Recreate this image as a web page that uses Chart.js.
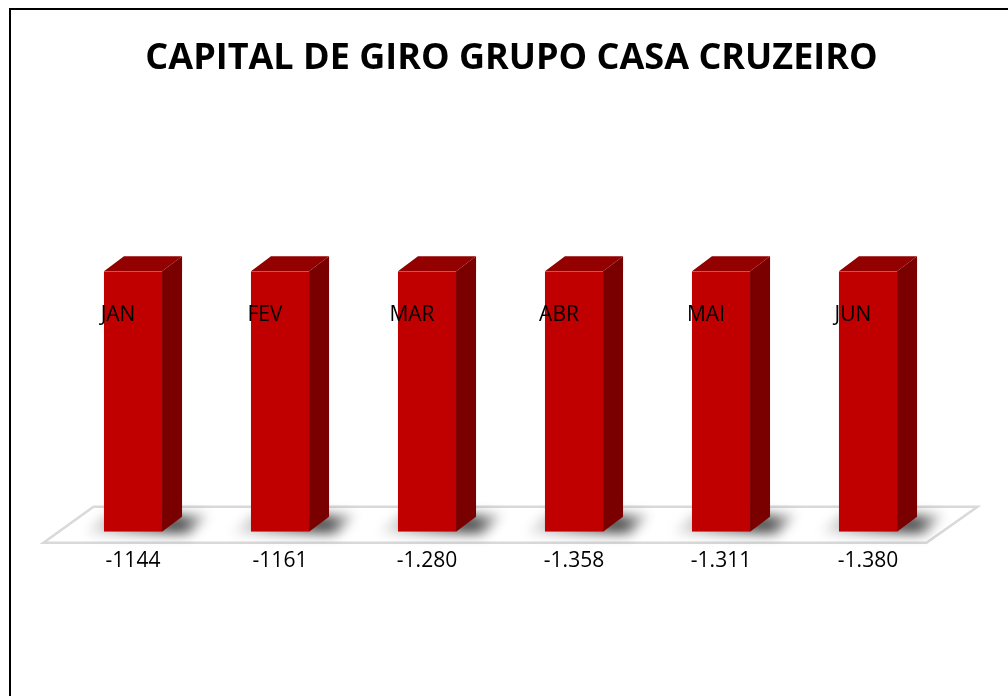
<!DOCTYPE html>
<html>
<head>
<meta charset="utf-8">
<script src="https://cdn.jsdelivr.net/npm/chart.js@4.4.1/dist/chart.umd.min.js"></script>
<style>
    html, body { margin: 0; padding: 0; background: #ffffff; }
    #wrap { width: 1008px; height: 696px; position: relative; }
</style>
</head>
<body>
<div id="wrap"><canvas id="giroChart" width="1008" height="696"></canvas></div>
<script>
// meses (rótulos dentro das colunas)
const meses = ['JAN', 'FEV', 'MAR', 'ABR', 'MAI', 'JUN'];
// valores exibidos abaixo das colunas
const valoresTexto = ['-1144', '-1161', '-1.280', '-1.358', '-1.311', '-1.380'];
// altura das colunas como aparecem no gráfico (todas iguais)
const alturas = [1, 1, 1, 1, 1, 1];

const tituloTexto = 'CAPITAL DE GIRO GRUPO CASA CRUZEIRO';

// profundidade do efeito 3D
const DX = 20, DY = -15;

// moldura, piso e sombras atrás das colunas
const fundo3d = {
    id: 'fundo3d',
    beforeDraw(chart) {
        const ctx = chart.ctx;
        ctx.save();
        ctx.fillStyle = '#ffffff';
        ctx.fillRect(0, 0, chart.width, chart.height);
        // moldura
        ctx.strokeStyle = '#000000';
        ctx.lineWidth = 2;
        ctx.beginPath();
        ctx.moveTo(10, chart.height + 5);
        ctx.lineTo(10, 9);
        ctx.lineTo(chart.width + 5, 9);
        ctx.stroke();
        ctx.restore();
    },
    beforeDatasetsDraw(chart) {
        const ctx = chart.ctx;
        const area = chart.chartArea;
        const base = chart.scales.y.getPixelForValue(0);
        ctx.save();
        // piso
        const l = area.left - 16, r = area.right - 15;
        const yFront = base + 11, yBack = base - 25;
        ctx.beginPath();
        ctx.moveTo(l, yFront);
        ctx.lineTo(r, yFront);
        ctx.lineTo(r + 51, yBack);
        ctx.lineTo(l + 50, yBack);
        ctx.closePath();
        ctx.fillStyle = '#ffffff';
        ctx.fill();
        ctx.strokeStyle = '#d9d9d9';
        ctx.lineWidth = 2.5;
        ctx.stroke();
        // sombras
        const meta = chart.getDatasetMeta(0);
        meta.data.forEach(function(bar) {
            const x0 = bar.x - bar.width / 2, x1 = bar.x + bar.width / 2;
            ctx.save();
            ctx.filter = 'blur(6px)';
            const g = ctx.createLinearGradient(x0 - 25, 0, x1 + 50, 0);
            g.addColorStop(0, 'rgba(0,0,0,0)');
            g.addColorStop(0.45, 'rgba(0,0,0,0.45)');
            g.addColorStop(0.75, 'rgba(0,0,0,0.7)');
            g.addColorStop(1, 'rgba(0,0,0,0.05)');
            ctx.fillStyle = g;
            ctx.beginPath();
            ctx.moveTo(x0 - 20, base + 2);
            ctx.lineTo(x1 + 28, base + 2);
            ctx.lineTo(x1 + 46, base - 17);
            ctx.lineTo(x0 + 2, base - 17);
            ctx.closePath();
            ctx.fill();
            ctx.restore();
        });
        ctx.restore();
    },
    afterDatasetsDraw(chart) {
        const ctx = chart.ctx;
        const meta = chart.getDatasetMeta(0);
        ctx.save();
        meta.data.forEach(function(bar, i) {
            const x0 = bar.x - bar.width / 2, x1 = bar.x + bar.width / 2;
            const top = bar.y, bottom = bar.base;
            // topo
            ctx.fillStyle = '#920000';
            ctx.beginPath();
            ctx.moveTo(x0, top);
            ctx.lineTo(x0 + DX, top + DY);
            ctx.lineTo(x1 + DX, top + DY);
            ctx.lineTo(x1, top);
            ctx.closePath();
            ctx.fill();
            // lateral
            ctx.fillStyle = '#7a0000';
            ctx.beginPath();
            ctx.moveTo(x1, top);
            ctx.lineTo(x1 + DX, top + DY);
            ctx.lineTo(x1 + DX, bottom + DY);
            ctx.lineTo(x1, bottom);
            ctx.closePath();
            ctx.fill();
            // rótulo do mês
            ctx.fillStyle = '#000000';
            ctx.font = '21px "Open Sans", "Liberation Sans", sans-serif';
            ctx.textAlign = 'center';
            ctx.textBaseline = 'middle';
            ctx.fillText(meses[i], bar.x - 15, 315);
        });
        ctx.restore();
    }
};

// eixos invisíveis só para reservar espaço nas laterais
function eixoLargura(w) {
    return function(scale) { scale.width = w; };
}

const ctx = document.getElementById('giroChart').getContext('2d');
const chart = new Chart(ctx, {
    type: 'bar',
    data: {
        labels: meses,
        datasets: [{
            label: 'Capital de giro',
            data: alturas,
            backgroundColor: '#c00000',
            borderWidth: 0,
            categoryPercentage: 1.0,
            barPercentage: 0.395
        }]
    },
    options: {
        responsive: false,
        animation: false,
        layout: {
            padding: { left: 15, right: 0, top: 0, bottom: 105 }
        },
        plugins: {
            legend: { display: false },
            tooltip: { enabled: false },
            title: {
                display: true,
                text: tituloTexto,
                color: '#000000',
                font: { family: '"Open Sans", "Liberation Sans", sans-serif', size: 36, weight: 'bold', lineHeight: 1.2 },
                padding: { top: 37, bottom: 191 }
            }
        },
        scales: {
            x: {
                grid: { display: false, drawTicks: false },
                border: { display: false },
                ticks: {
                    color: '#000000',
                    padding: 17,
                    font: { family: '"Open Sans", "Liberation Sans", sans-serif', size: 21 },
                    callback: function(value, index) {
                        return valoresTexto[index];
                    }
                }
            },
            y: {
                position: 'left',
                min: 0,
                max: 1,
                grid: { display: false, drawTicks: false },
                border: { display: false },
                ticks: { display: false },
                afterFit: eixoLargura(44.5)
            },
            y2: {
                position: 'right',
                min: 0,
                max: 1,
                grid: { display: false, drawTicks: false },
                border: { display: false },
                ticks: { display: false },
                afterFit: eixoLargura(66.5)
            }
        }
    },
    plugins: [fundo3d]
});
</script>
</body>
</html>
